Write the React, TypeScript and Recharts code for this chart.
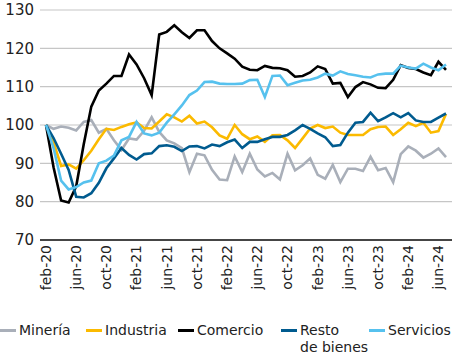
import React from 'react';
import { LineChart, Line, XAxis, YAxis, CartesianGrid, Legend } from 'recharts';

const months = [
  'feb-20', 'mar-20', 'abr-20', 'may-20', 'jun-20', 'jul-20', 'ago-20', 'sep-20', 'oct-20', 'nov-20', 'dic-20',
  'ene-21', 'feb-21', 'mar-21', 'abr-21', 'may-21', 'jun-21', 'jul-21', 'ago-21', 'sep-21', 'oct-21', 'nov-21', 'dic-21',
  'ene-22', 'feb-22', 'mar-22', 'abr-22', 'may-22', 'jun-22', 'jul-22', 'ago-22', 'sep-22', 'oct-22', 'nov-22', 'dic-22',
  'ene-23', 'feb-23', 'mar-23', 'abr-23', 'may-23', 'jun-23', 'jul-23', 'ago-23', 'sep-23', 'oct-23', 'nov-23', 'dic-23',
  'ene-24', 'feb-24', 'mar-24', 'abr-24', 'may-24', 'jun-24', 'jul-24',
];

const mineria = [
  100, 99.0, 99.6, 99.3, 98.6, 100.8, 101.3, 98.0, 99.0, 96.0, 93.5,
  96.5, 96.2, 98.5, 102.0, 98.2, 96.0, 95.2, 94.0, 87.7, 92.5, 92.1, 88.3,
  85.8, 85.6, 91.8, 87.7, 92.5, 88.4, 86.6, 87.5, 85.8, 92.5, 88.2, 89.5,
  91.3, 87.0, 86.0, 89.6, 85.1, 88.6, 88.6, 88.0, 91.7, 88.2, 88.8, 85.1,
  92.4, 94.4, 93.3, 91.5, 92.5, 93.9, 91.6,
];

const industria = [
  100, 95.5, 89.3, 89.7, 88.6, 90.8, 93.3, 96.3, 99.0, 98.7, 99.5,
  100.2, 100.7, 99.2, 99.1, 100.9, 102.8, 102.0, 100.9, 102.4, 100.4, 100.9, 99.4,
  97.3, 96.4, 100.0, 97.6, 96.3, 97.0, 95.6, 97.3, 97.4, 96.0, 94.0, 96.5,
  99.1, 100.0, 99.2, 99.6, 98.0, 97.4, 97.4, 97.4, 98.9, 99.5, 99.6, 97.4,
  98.9, 100.6, 99.7, 100.6, 98.0, 98.4, 102.9,
];

const comercio = [
  100, 89.0, 80.3, 79.8, 84.0, 95.0, 104.8, 109.0, 110.8, 112.8, 112.8,
  118.4, 115.8, 112.2, 107.8, 123.6, 124.3, 126.0, 124.2, 122.7, 124.7, 124.7, 121.9,
  120.0, 118.7, 117.3, 115.2, 114.4, 114.3, 115.4, 114.9, 114.8, 114.3, 112.6, 112.8,
  113.7, 115.3, 114.6, 110.8, 111.0, 107.3, 109.9, 111.2, 110.6, 109.7, 109.6, 111.8,
  115.6, 114.9, 114.6, 113.7, 113.0, 116.5, 114.4,
];

const restoBienes = [
  100, 96.6, 92.5, 88.3, 81.3, 81.1, 82.2, 84.9, 88.7, 91.3, 94.0,
  92.2, 91.0, 92.4, 92.6, 94.5, 94.7, 94.3, 93.2, 94.4, 94.5, 93.9, 94.9,
  94.5, 95.5, 96.2, 94.0, 95.6, 95.6, 96.3, 96.9, 96.9, 97.4, 98.6, 100.0,
  99.0, 97.8, 96.8, 94.5, 94.8, 98.0, 100.6, 100.8, 103.2, 101.0, 102.0, 103.1,
  102.0, 103.1, 101.2, 100.8, 100.8, 101.9, 103.0,
];

const servicios = [
  100, 94.0, 85.5, 83.2, 83.8, 85.0, 85.5, 90.0, 90.7, 92.0, 96.0,
  96.9, 100.8, 97.8, 97.3, 98.0, 100.6, 102.8, 105.1, 107.8, 109.0, 111.2, 111.3,
  110.8, 110.7, 110.7, 110.8, 111.7, 111.8, 107.3, 112.8, 112.9, 110.4, 111.0, 111.6,
  111.8, 112.4, 113.4, 112.9, 114.0, 113.3, 113.0, 112.6, 112.4, 113.2, 113.4, 113.4,
  115.5, 115.0, 114.7, 116.0, 115.0, 114.3, 115.8,
];

const yTicks = [70, 80, 90, 100, 110, 120, 130];

const seriesDefs = [
  { key: 'mineria', name: 'Minería', label: 'Minería', color: '#A9AFB9' },
  { key: 'industria', name: 'Industria', label: 'Industria', color: '#FBBA00' },
  { key: 'comercio', name: 'Comercio', label: 'Comercio', color: '#000000' },
  { key: 'restoBienes', name: 'Resto de bienes', label: 'Resto\nde bienes', color: '#005B8F' },
  { key: 'servicios', name: 'Servicios', label: 'Servicios', color: '#56C1EE' },
];

const data = months.map((m, i) => ({
  month: m,
  mineria: mineria[i],
  industria: industria[i],
  comercio: comercio[i],
  restoBienes: restoBienes[i],
  servicios: servicios[i],
}));

const FONT = '"DejaVu Sans", sans-serif';
const TEXT = '#222222';

const XTick = (props: any) => {
  const { x, y, payload } = props;
  return (
    <text
      x={x}
      y={y}
      transform={`rotate(-90, ${x}, ${y})`}
      textAnchor="end"
      dy="0.35em"
      fontSize={14}
      fill={TEXT}
      fontFamily={FONT}
    >
      {payload.value}
    </text>
  );
};

const legendLefts = [0, 86, 178, 281, 369];

const renderLegend = () => (
  <div style={{ position: 'relative', width: 455, height: 44, fontFamily: FONT, fontSize: 14, color: TEXT }}>
    {seriesDefs.map((s, i) => (
      <div
        key={s.key}
        style={{ position: 'absolute', left: legendLefts[i], top: 9, display: 'flex', alignItems: 'flex-start' }}
      >
        <span
          style={{ display: 'inline-block', width: 16, height: 3, background: s.color, marginTop: 7, marginRight: 3 }}
        />
        <span style={{ lineHeight: '17px', whiteSpace: 'pre-line' }}>{s.label}</span>
      </div>
    ))}
  </div>
);

export default function App() {
  return (
    <div style={{ position: 'absolute', left: 0, top: 0 }}>
      <LineChart width={455} height={357} data={data} margin={{ top: 10, right: 3, bottom: 0, left: 0 }}>
        <CartesianGrid vertical={false} stroke="#c6c6c6" strokeWidth={1.2} />
        <XAxis
          dataKey="month"
          interval={3}
          tickLine={false}
          tickSize={0}
          tickMargin={5}
          axisLine={{ stroke: '#111', strokeWidth: 1.5 }}
          padding={{ left: 6, right: 6 }}
          height={73}
          tick={<XTick />}
        />
        <YAxis
          domain={[70, 130]}
          ticks={yTicks}
          interval={0}
          axisLine={false}
          tickLine={false}
          tickSize={0}
          tickMargin={6}
          width={40}
          tick={{ fontSize: 15, fill: TEXT, fontFamily: FONT }}
        />
        <Legend
          verticalAlign="bottom"
          content={renderLegend}
          wrapperStyle={{ left: 0, top: 313, bottom: 'auto', width: 455, height: 44 }}
        />
        {seriesDefs.map((s) => (
          <Line
            key={s.key}
            type="linear"
            dataKey={s.key}
            name={s.name}
            stroke={s.color}
            strokeWidth={2.6}
            dot={false}
            activeDot={false}
            isAnimationActive={false}
          />
        ))}
      </LineChart>
    </div>
  );
}
